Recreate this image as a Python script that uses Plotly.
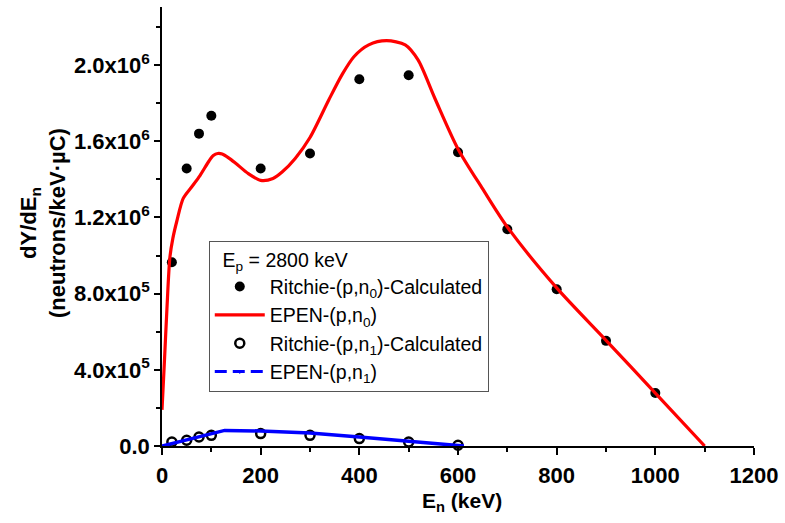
import plotly.graph_objects as go

# EPEN-(p,n0) calculated curve
epen0_E = [0, 5, 10, 16, 22, 30, 43, 60, 77, 95, 104, 113, 122, 135, 150, 175, 200, 225,
           244, 270, 300, 338, 365, 389, 419, 455, 493, 519, 553, 600, 650, 700, 800, 900,
           1000, 1100]
epen0_Y = [0.19e6, 0.45e6, 0.72e6, 0.99e6, 1.09e6, 1.18e6, 1.30e6, 1.36e6, 1.42e6,
           1.495e6, 1.525e6, 1.536e6, 1.533e6, 1.513e6, 1.483e6, 1.43e6, 1.395e6, 1.405e6,
           1.44e6, 1.51e6, 1.62e6, 1.817e6, 1.95e6, 2.044e6, 2.106e6, 2.128e6, 2.106e6,
           2.027e6, 1.826e6, 1.56e6, 1.35e6, 1.15e6, 0.83e6, 0.555e6, 0.278e6, 0.0]

# EPEN-(p,n1) calculated curve
epen1_E = [0, 127, 200, 300, 400, 500, 612]
epen1_Y = [0.0, 0.082e6, 0.079e6, 0.068e6, 0.047e6, 0.025e6, 0.0]

# Ritchie-(p,n0)-Calculated points
rit0_E = [20, 50, 75, 100, 200, 300, 400, 500, 600, 700, 800, 900, 1000]
rit0_Y = [0.965e6, 1.457e6, 1.64e6, 1.734e6, 1.457e6, 1.536e6, 1.926e6, 1.947e6,
          1.542e6, 1.138e6, 0.823e6, 0.552e6, 0.278e6]

# Ritchie-(p,n1)-Calculated points
rit1_E = [20, 50, 75, 100, 200, 300, 400, 500, 600]
rit1_Y = [0.021e6, 0.030e6, 0.047e6, 0.056e6, 0.065e6, 0.056e6, 0.039e6, 0.021e6, 0.004e6]

y_tickvals = [0, 4e5, 8e5, 1.2e6, 1.6e6, 2.0e6]
y_ticktext = ["0.0", "4.0x10<sup>5</sup>", "8.0x10<sup>5</sup>", "1.2x10<sup>6</sup>",
              "1.6x10<sup>6</sup>", "2.0x10<sup>6</sup>"]
x_tickvals = [0, 200, 400, 600, 800, 1000, 1200]

FONT = "Liberation Sans, Arial, sans-serif"

fig = go.Figure()

fig.add_trace(go.Scatter(x=rit0_E, y=rit0_Y, mode="markers", name="Ritchie-(p,n<sub>0</sub>)-Calculated",
                         marker=dict(symbol="circle", size=10, color="black"), cliponaxis=False))
fig.add_trace(go.Scatter(x=epen0_E, y=epen0_Y, mode="lines", name="EPEN-(p,n<sub>0</sub>)",
                         line=dict(color="#ff0000", width=3.2, shape="spline", smoothing=0.8)))
fig.add_trace(go.Scatter(x=rit1_E, y=rit1_Y, mode="markers", name="Ritchie-(p,n<sub>1</sub>)-Calculated",
                         marker=dict(symbol="circle-open", size=9, color="black", line=dict(width=2.5)),
                         cliponaxis=False))
fig.add_trace(go.Scatter(x=epen1_E, y=epen1_Y, mode="lines", showlegend=False,
                         line=dict(color="#0000ff", width=3.5), cliponaxis=False))
# legend entry for the blue curve (dash style as in the legend)
fig.add_trace(go.Scatter(x=[None], y=[None], mode="lines+markers", name="EPEN-(p,n<sub>1</sub>)",
                         line=dict(color="#0000ff", width=3, dash="12px,6px"),
                         marker=dict(symbol="triangle-down", size=5, color="#0000ff")))

fig.update_layout(
    width=785, height=523,
    margin=dict(l=162, r=27, t=7, b=77),
    paper_bgcolor="white", plot_bgcolor="white",
    font=dict(family=FONT, color="black"),
    showlegend=True,
    legend=dict(x=0.079, y=0.467, xanchor="left", yanchor="top",
                bgcolor="white", bordercolor="#555555", borderwidth=1,
                font=dict(family=FONT, size=19.5, color="black"),
                title=dict(text="\u00a0\u00a0E<sub>p</sub> = 2800 keV", font=dict(family=FONT, size=19.5)),
                tracegroupgap=0, itemwidth=50),
    xaxis=dict(range=[0, 1200], tickmode="array", tickvals=x_tickvals,
               showline=True, linecolor="black", linewidth=1.5, mirror=False,
               ticks="outside", ticklen=7, tickwidth=1.5, tickcolor="black",
               showgrid=False, zeroline=False, ticklabelstandoff=2,
               tickfont=dict(family=FONT, size=22, weight="bold"),
               minor=dict(tickmode="linear", tick0=0, dtick=100, ticks="outside", ticklen=4,
                          tickwidth=1.5, tickcolor="black", showgrid=False)),
    yaxis=dict(range=[0, 2.305e6], tickmode="array", tickvals=y_tickvals, ticktext=y_ticktext,
               showline=True, linecolor="black", linewidth=1.5, mirror=False,
               ticks="outside", ticklen=6, tickwidth=1.5, tickcolor="black",
               showgrid=False, zeroline=False,
               tickfont=dict(family=FONT, size=22, weight="bold"),
               minor=dict(tickmode="linear", tick0=0, dtick=2e5, ticks="outside", ticklen=4,
                          tickwidth=1.5, tickcolor="black", showgrid=False)),
    annotations=[
        dict(xref="paper", yref="paper", x=-0.201, y=0.508,
             text="<b>dY/dE<sub>n</sub></b><br><b>(neutrons/keV·µC)</b>",
             textangle=-90, showarrow=False, xanchor="center", yanchor="middle",
             font=dict(family=FONT, size=22, color="black")),
        dict(xref="paper", yref="paper", x=0.507, y=-0.093,
             text="<b>E<sub>n</sub> (keV)</b>", showarrow=False,
             xanchor="center", yanchor="top",
             font=dict(family=FONT, size=21, color="black")),
    ],
)

fig.write_html("out.html")
